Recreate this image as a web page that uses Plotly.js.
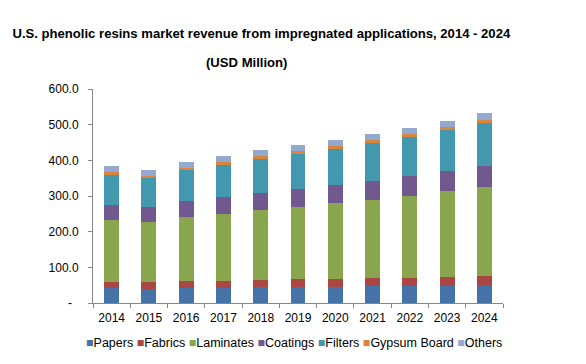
<!DOCTYPE html>
<html>
<head>
<meta charset="utf-8">
<script src="https://cdn.plot.ly/plotly-3.0.1.min.js"></script>
<style>html,body{margin:0;padding:0;background:#fff;}#chart{width:586px;height:364px;}</style>
</head>
<body>
<div id="chart"></div>
<script>
const years = ['2014','2015','2016','2017','2018','2019','2020','2021','2022','2023','2024'];
const seriesNames = ['Papers','Fabrics','Laminates','Coatings','Filters','Gypsum Board','Others'];
const papers      = [43.0, 39.3, 43.0, 43.0, 44.9, 44.9, 44.9, 48.6, 48.6, 48.6, 50.5];
const fabrics     = [16.8, 20.5, 19.6, 19.6, 20.5, 23.3, 22.4, 21.5, 21.5, 24.3, 25.2];
const laminates   = [173.0, 168.2, 179.4, 187.9, 196.3, 201.9, 213.1, 218.7, 229.9, 241.1, 249.5];
const coatings    = [42.1, 42.1, 43.9, 46.7, 46.7, 50.5, 49.5, 53.2, 56.0, 56.0, 58.9];
const filters     = [84.1, 81.3, 87.9, 89.7, 95.3, 98.1, 101.0, 106.6, 109.4, 115.9, 120.6];
const gypsumBoard = [8.4, 5.6, 4.7, 9.3, 9.3, 8.4, 8.4, 8.4, 8.4, 7.5, 8.4];
const others      = [16.8, 16.8, 17.8, 15.9, 16.8, 15.9, 16.8, 16.8, 16.8, 16.8, 19.6];
const yTickVals   = [0, 100, 200, 300, 400, 500, 600];
const yTickText   = ['-\u00a0\u00a0', '100.0', '200.0', '300.0', '400.0', '500.0', '600.0'];

const seriesValues = [papers, fabrics, laminates, coatings, filters, gypsumBoard, others];
const colors = ['#4572A7','#AA4643','#89A54E','#71588F','#4198AF','#DB843D','#93A9CF'];

const traces = seriesNames.map((n, i) => ({
  type: 'bar', name: n, x: years, y: seriesValues[i],
  marker: {color: colors[i], line: {width: 0}},
  hoverinfo: 'x+y+name'
}));

const legendText = seriesNames.map((n, i) =>
  '<span style="color:' + colors[i] + '">■</span>' + n).join(' ');

const layout = {
  width: 586, height: 364,
  margin: {l: 93, r: 83, t: 89, b: 61},
  barmode: 'stack', bargap: 0.6,
  showlegend: false,
  paper_bgcolor: '#ffffff', plot_bgcolor: '#ffffff',
  font: {family: 'Liberation Sans, Arial, sans-serif', size: 12, color: '#000'},
  title: {
    text: '<b>U.S. phenolic resins market revenue from impregnated applications, 2014 - 2024</b>',
    font: {family: 'Liberation Sans, Arial, sans-serif', size: 13.1, color: '#000'},
    x: 0.446, xref: 'container', xanchor: 'center',
    y: 1 - 33/364, yref: 'container', yanchor: 'middle'
  },
  xaxis: {
    type: 'category', showgrid: false, zeroline: false,
    showline: true, linecolor: '#868686', linewidth: 1,
    ticks: 'outside', tickson: 'boundaries', ticklen: 4, tickcolor: '#868686',
    ticklabelstandoff: 4,
    tickfont: {size: 12, color: '#000'}
  },
  yaxis: {
    range: [0, 600], showgrid: false, zeroline: false,
    showline: true, linecolor: '#868686', linewidth: 1,
    ticks: 'outside', ticklen: 4, tickcolor: '#868686',
    tickvals: yTickVals, ticktext: yTickText,
    ticklabelstandoff: 7,
    tickfont: {size: 12, color: '#000'}
  },
  annotations: [
    {text: '<b>(USD Million)</b>', xref: 'paper', yref: 'paper',
     x: (246 - 93) / 410, y: (303 - 62) / 214, xanchor: 'center', yanchor: 'middle',
     showarrow: false, font: {size: 13.1, color: '#000'}},
    {text: legendText, xref: 'paper', yref: 'paper',
     x: (294 - 93) / 410, y: (303 - 343) / 214, xanchor: 'center', yanchor: 'middle',
     showarrow: false, font: {size: 12.5, color: '#000'}}
  ]
};

Plotly.newPlot('chart', traces, layout, {displayModeBar: false, staticPlot: true});
</script>
</body>
</html>
